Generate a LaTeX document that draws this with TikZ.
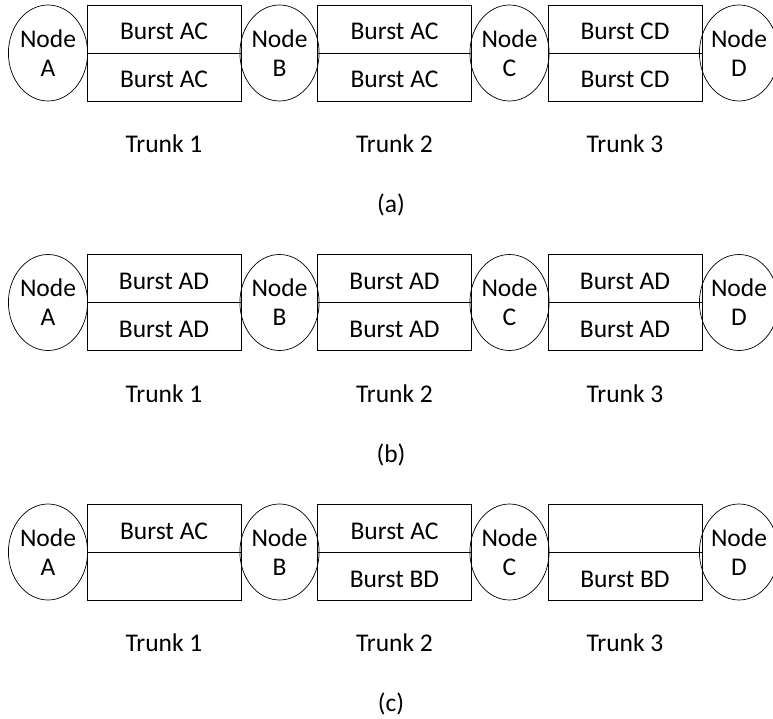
\documentclass[tikz,border=0pt]{standalone}
\usepackage{fontspec}
\setmainfont{Carlito}
\usetikzlibrary{shapes.geometric}

\tikzset{
  txt/.style={font=\fontsize{25.5}{29}\selectfont},
  station/.style={txt, ellipse, draw=black, line width=0.7pt, outer sep=0pt,
    minimum width=76pt, minimum height=96pt, inner sep=0pt, align=center},
  slot/.style={txt, rectangle, draw=black, line width=0.7pt, outer sep=0pt,
    minimum width=154pt, minimum height=48pt, inner sep=0pt,
    text height=22pt, text depth=0pt},
  trunklabel/.style={txt, inner sep=0pt},
  caption/.style={txt, inner sep=0pt}
}

% One row: four nodes, three trunks with two burst slots each
% #1 row id, #2 vertical centre, #3..#8 slot texts (top/bottom per trunk), #9 caption
\newcommand{\trunkrow}[9]{%
  \node[station] (A#1) at (48,#2)    {Node\\A};
  \node[station] (B#1) at (279.5,#2) {Node\\B};
  \node[station] (C#1) at (509.5,#2) {Node\\C};
  \node[station] (D#1) at (739,#2)   {Node\\D};
  \node[slot, anchor=south] (T1u#1) at (164,#2)   {#3};
  \node[slot, anchor=north] (T1l#1) at (164,#2)   {#4};
  \node[slot, anchor=south] (T2u#1) at (394.5,#2) {#5};
  \node[slot, anchor=north] (T2l#1) at (394.5,#2) {#6};
  \node[slot, anchor=south] (T3u#1) at (625,#2)   {#7};
  \node[slot, anchor=north] (T3l#1) at (625,#2)   {#8};
  \node[trunklabel] (L1#1) at (164,#2+91)   {Trunk 1};
  \node[trunklabel] (L2#1) at (394.5,#2+91) {Trunk 2};
  \node[trunklabel] (L3#1) at (625,#2+91)   {Trunk 3};
  \node[caption] (cap#1) at (391,#2+152) {#9};
}

\begin{document}
\begin{tikzpicture}[x=1pt,y=-1pt]
  \useasboundingbox (0,0) rectangle (773,719);
  \trunkrow{a}{53}{Burst AC}{Burst AC}{Burst AC}{Burst AC}{Burst CD}{Burst CD}{(a)}
  \trunkrow{b}{302.5}{Burst AD}{Burst AD}{Burst AD}{Burst AD}{Burst AD}{Burst AD}{(b)}
  \trunkrow{c}{552}{Burst AC}{}{Burst AC}{Burst BD}{}{Burst BD}{(c)}
\end{tikzpicture}
\end{document}
